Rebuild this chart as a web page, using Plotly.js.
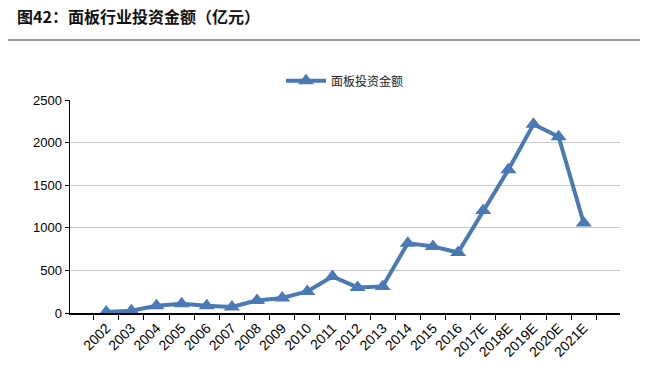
<!DOCTYPE html>
<html><head><meta charset="utf-8">
<script src="https://cdn.plot.ly/plotly-3.0.1.min.js"></script>
<style>html,body{margin:0;padding:0;background:#fff;}#chart{width:663px;height:374px;}</style>
</head><body><div id="chart"></div>
<script>
const years = ["2002","2003","2004","2005","2006","2007","2008","2009","2010","2011","2012","2013","2014","2015","2016","2017E","2018E","2019E","2020E","2021E"];
const investment = [12,27,86,109,86,70,148,176,253,429,300,312,820,781,710,1203,1680,2215,2070,1055];
const seriesName = "面板投资金额";
const yTicks = [0,500,1000,1500,2000,2500];

const trace = {
  x: years, y: investment, name: seriesName, type: "scatter", mode: "lines+markers",
  line: {color: "#4a7ab5", width: 4},
  marker: {symbol: "triangle-up", size: 14, color: "#4a7ab5"},
  showlegend: true
};
const layout = {
  width: 663, height: 374,
  margin: {l: 70, r: 43, t: 100, b: 61},
  paper_bgcolor: "#fff", plot_bgcolor: "#fff",
  font: {family: "Liberation Sans, Arial, sans-serif", color: "#000", size: 12},
  title: {text: "<b>图42：面板行业投资金额（亿元）</b>", x: 17/663, xanchor: "left", xref: "container",
    y: 1 - 17/374, yanchor: "middle", yref: "container",
    font: {family: "Noto Sans CJK SC, sans-serif", size: 16, color: "#111"}},
  showlegend: true,
  legend: {orientation: "h", x: 0.5, xanchor: "center", y: 1.09, yanchor: "middle", itemwidth: 40,
    font: {family: "Noto Sans CJK SC, sans-serif", size: 12, color: "#222"}, bgcolor: "rgba(0,0,0,0)"},
  xaxis: {type: "category", tickangle: -45, showline: true, linecolor: "#000", linewidth: 1.5,
    ticks: "outside", tickson: "boundaries", ticklen: 5, tickcolor: "#000", showgrid: false,
    tickfont: {size: 14, color: "#000"}, fixedrange: true},
  yaxis: {range: [0, 2500], tickvals: yTicks, showline: true, linecolor: "#000", linewidth: 1.5,
    ticks: "outside", ticklen: 4, tickcolor: "#000", gridcolor: "#c8c8c8", gridwidth: 1,
    zeroline: false, tickfont: {size: 13, color: "#000"}, fixedrange: true},
  shapes: [{type: "line", xref: "paper", yref: "paper", x0: (8-70)/550, x1: (640-70)/550,
    y0: (313-40)/213, y1: (313-40)/213, line: {color: "#333", width: 1}}]
};
Plotly.newPlot("chart", [trace], layout, {displayModeBar: false, staticPlot: true});
</script></body></html>
